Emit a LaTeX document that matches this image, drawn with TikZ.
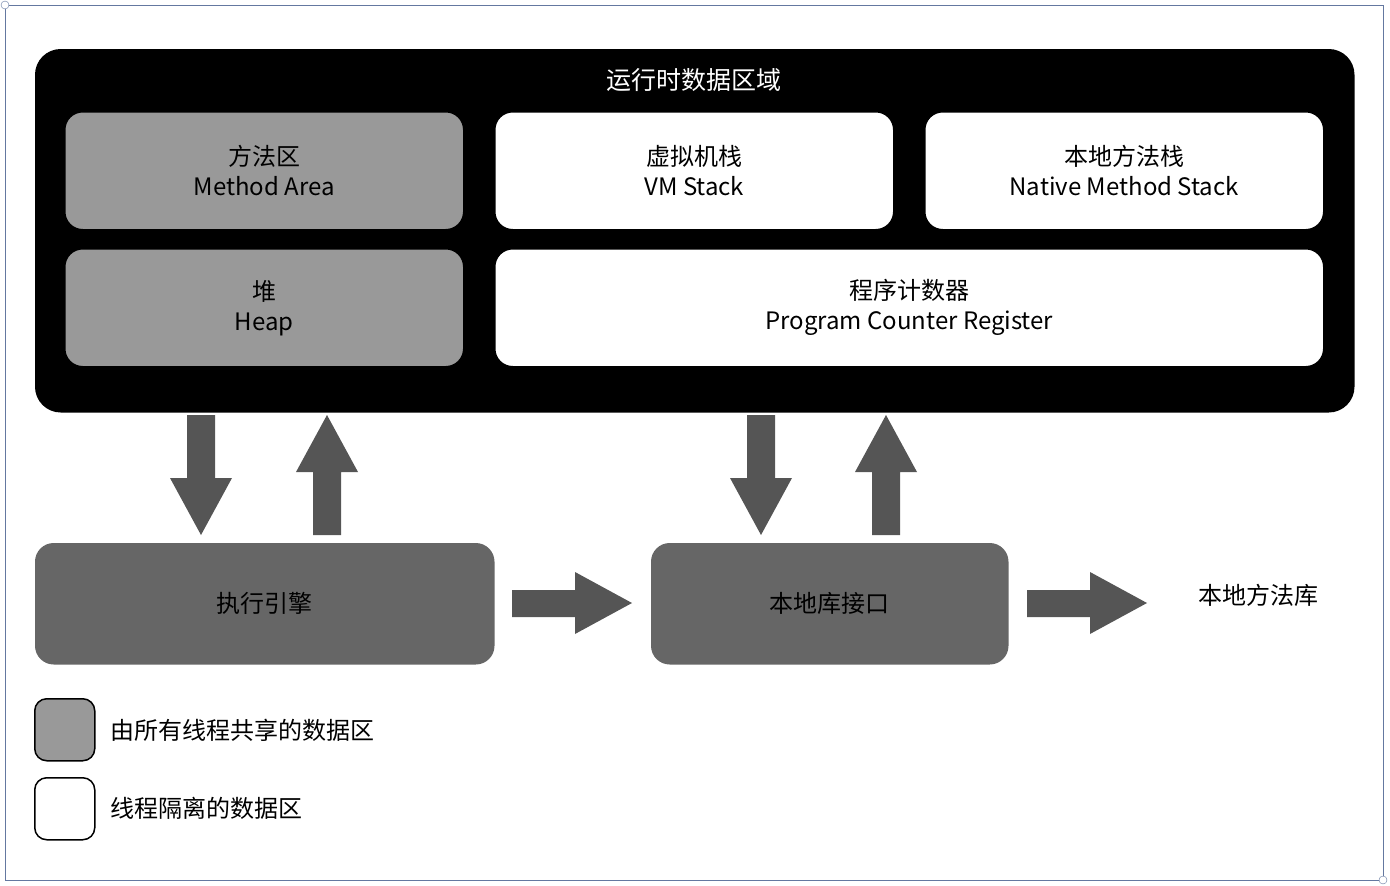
\documentclass[tikz,border=0pt]{standalone}
\usepackage{fontspec}
\setmainfont{Noto Sans CJK SC}
\begin{document}
\begin{tikzpicture}[x=1pt,y=-1pt,
  box/.style={rounded corners=18pt,draw=black,line width=1.5pt,align=center,font=\fontsize{24}{30}\selectfont,inner sep=0pt},
  shared/.style={box,fill=gray!80!black!70,fill={rgb,255:red,153;green,153;blue,153}},
  priv/.style={box,fill=white},
  eng/.style={box,fill={rgb,255:red,102;green,102;blue,102},draw={rgb,255:red,102;green,102;blue,102}},
  arr/.style={fill={rgb,255:red,85;green,85;blue,85}},
  lab/.style={font=\fontsize{24}{30}\selectfont,anchor=west,inner sep=0pt}]
\useasboundingbox (0,0) rectangle (1390,886);
\draw[color={rgb,255:red,100;green,120;blue,160},line width=0.8pt] (5,5) rectangle (1383,880);
\draw[color={rgb,255:red,100;green,120;blue,160},fill=white] (5,5) circle (4) (1383,880) circle (4);
\node[box,fill=black,rounded corners=25pt,minimum width=1318,minimum height=362,anchor=north west] (rt) at (35,49) {};
\node[text=white,font=\fontsize{25}{30}\selectfont] (title) at (694,80) {运行时数据区域};
\node[shared,minimum width=399,minimum height=118,anchor=north west] (ma) at (64,111) {方法区\\Method Area};
\node[priv,minimum width=399,minimum height=118,anchor=north west] (vm) at (494,111) {虚拟机栈\\VM Stack};
\node[priv,minimum width=399,minimum height=118,anchor=north west] (ns) at (924,111) {本地方法栈\\Native Method Stack};
\node[shared,minimum width=399,minimum height=118,anchor=north west] (hp) at (64,248) {堆\\Heap};
\node[priv,minimum width=829,minimum height=118,anchor=north west] (pc) at (494,248) {程序计数器\\Program Counter Register};
\node[eng,minimum width=458,minimum height=120,anchor=north west] (ee) at (35,543) {执行引擎};
\node[eng,minimum width=356,minimum height=120,anchor=north west] (ni) at (651,543) {本地库接口};
\node[lab,anchor=center] (nl) at (1258,595) {本地方法库};
% vertical arrows
\foreach \c in {201,761}{
 \fill[arr] (\c-14,415) -- (\c+14,415) -- (\c+14,478) -- (\c+31,478) -- (\c,535) -- (\c-31,478) -- (\c-14,478) -- cycle;}
\foreach \c in {327,886}{
 \fill[arr] (\c-14,535) -- (\c+14,535) -- (\c+14,472) -- (\c+31,472) -- (\c,415) -- (\c-31,472) -- (\c-14,472) -- cycle;}
% horizontal arrows
\foreach \s in {512,1027}{
 \fill[arr] (\s,590) -- (\s+63,590) -- (\s+63,572) -- (\s+120,603) -- (\s+63,634) -- (\s+63,617) -- (\s,617) -- cycle;}
\node[shared,minimum width=60,minimum height=62,anchor=north west,rounded corners=12pt] (lg1) at (34,698) {};
\node[priv,minimum width=60,minimum height=62,anchor=north west,rounded corners=12pt] (lg2) at (34,777) {};
\node[lab] (t1) at (110,730) {由所有线程共享的数据区};
\node[lab] (t2) at (110,808) {线程隔离的数据区};
\end{tikzpicture}
\end{document}
